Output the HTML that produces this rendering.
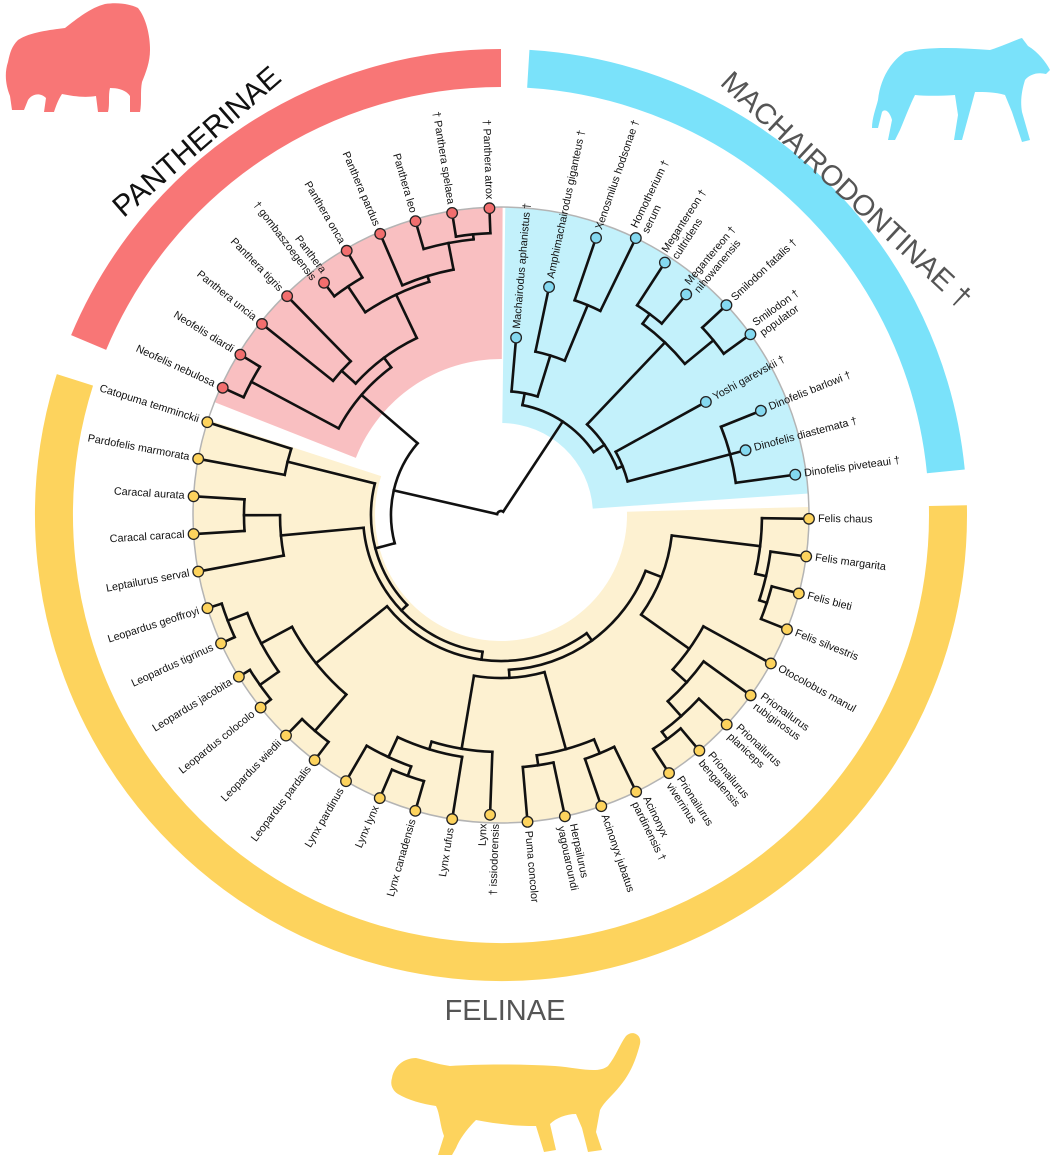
<!DOCTYPE html>
<html><head><meta charset="utf-8"><style>
html,body{margin:0;padding:0;background:#fff;}
svg{display:block;font-family:"Liberation Sans",sans-serif;}
</style></head><body>
<svg id="chart" width="1054" height="1156" viewBox="0 0 1054 1156" xmlns="http://www.w3.org/2000/svg">
<g id="bg"></g><g id="rings"></g><g id="tree"></g><g id="tips"></g><g id="labels"></g>
<g id="titles">
<text x="0" y="0" transform="translate(197,142) rotate(-41)" text-anchor="middle" dominant-baseline="central" font-size="30" fill="#111">PANTHERINAE</text>
<text x="0" y="0" transform="translate(846,190) rotate(43)" text-anchor="middle" dominant-baseline="central" font-size="29" fill="#555">MACHAIRODONTINAE †</text>
<text x="505" y="1020" text-anchor="middle" font-size="29" fill="#555">FELINAE</text>
</g>
<g id="silhouettes">
<path fill="#f87676" d="M18,40 C30,32 50,30 65,28 C78,18 90,8 105,4 C118,2 130,4 138,8 C146,18 150,35 150,50 C150,62 146,72 142,82 C140,92 142,102 140,112 L130,112 L130,96 C126,90 118,88 110,88 C108,96 110,104 108,112 L98,112 L96,96 C84,98 72,96 62,94 C58,100 56,106 54,112 L44,112 L46,98 C40,92 32,94 28,100 L24,110 L12,110 L10,96 C6,86 4,74 8,62 C10,52 12,46 18,40 Z"/>
<path fill="#7ae2fa" d="M878,100 C880,80 890,62 905,52 C930,46 960,48 990,50 C1005,45 1015,40 1022,38 L1028,46 C1038,52 1046,62 1050,70 L1046,74 C1038,72 1030,74 1025,80 C1022,90 1020,100 1022,112 L1030,140 L1022,142 L1012,112 L1005,95 C995,92 985,92 975,92 L968,118 L962,140 L954,140 L958,115 L955,95 C940,96 925,96 915,95 C910,105 905,118 900,130 L895,140 L888,140 L892,120 C890,112 885,108 882,112 L878,128 L872,128 C872,118 876,108 878,100 Z"/>
<path fill="#fdd35d" d="M392,1078 C394,1066 404,1058 416,1058 C426,1060 436,1064 450,1066 C480,1064 520,1064 555,1066 C580,1068 598,1074 608,1066 C616,1056 620,1044 626,1036 C632,1030 642,1034 640,1044 C636,1060 630,1074 620,1086 C612,1096 604,1102 600,1110 L596,1132 L602,1150 L588,1152 L582,1128 L576,1114 C566,1114 556,1118 550,1124 L556,1150 L544,1152 L536,1126 C516,1126 496,1124 476,1120 C468,1128 460,1138 456,1148 L452,1155 L438,1155 L444,1136 C440,1126 440,1114 436,1106 C422,1104 408,1100 398,1094 C392,1090 390,1084 392,1078 Z"/>
</g>
</svg>
<script>
// ---------- DATA ----------
const tipNames = [
 ["Felis chaus"],["Felis margarita"],["Felis bieti"],["Felis silvestris"],["Otocolobus manul"],
 ["Prionailurus","rubiginosus"],["Prionailurus","planiceps"],["Prionailurus","bengalensis"],["Prionailurus","viverrinus"],
 ["Acinonyx","pardinensis  †"],["Acinonyx jubatus"],["Herpailurus","yagouaroundi"],["Puma concolor"],
 ["Lynx","† issiodorensis"],["Lynx rufus"],["Lynx canadensis"],["Lynx lynx"],["Lynx pardinus"],
 ["Leopardus pardalis"],["Leopardus wiedii"],["Leopardus colocolo"],["Leopardus jacobita"],["Leopardus tigrinus"],["Leopardus geoffroyi"],
 ["Leptailurus serval"],["Caracal caracal"],["Caracal aurata"],["Pardofelis marmorata"],["Catopuma temminckii"],
 ["Neofelis nebulosa"],["Neofelis diardi"],["Panthera uncia"],["Panthera tigris"],["Panthera","† gombaszoegensis"],
 ["Panthera onca"],["Panthera pardus"],["Panthera leo"],["† Panthera spelaea"],["† Panthera atrox"],
 ["Machairodus aphanistus †"],["Amphimachairodus giganteus †"],["Xenosmilus hodsonae †"],["Homotherium  †","serum"],
 ["Megantereon  †","cultridens"],["Megantereon  †","nihowanensis"],["Smilodon fatalis †"],["Smilodon  †","populator"],
 ["Yoshi garevskii †"],["Dinofelis barlowi †"],["Dinofelis diastemata †"],["Dinofelis piveteaui †"]
];
const tipGroups = [0,0,0,0,0,0,0,0,0,0,0,0,0,0,0,0,0,0,0,0,0,0,0,0,0,0,0,0,0,1,1,1,1,1,1,1,1,1,1,2,2,2,2,2,2,2,2,2,2,2,2];
const tipRadii = [308,308,308,308,308,308,308,308,308,308,308,308,308,300,308,308,308,308,308,308,308,308,308,308,308,308,308,308,308,
 306,306,306,306,292,306,306,306,306,307,
 178,233,293,308,301,288,308,308,234,280,253,297];
// tree topology: [nodeRadius, children...] ; numbers = tip index
const tree = [4,
 [110,
  [130,[220,28,27],
   [138,[221,[257,26,25],24],
    [146,[237,[272,[293,23,22],[295,21,20]],[285,19,18]],
     [155,[163,[237,[245,[267,17,[277,16,15]],14],13],[243,[253,12,11],[258,10,9]]],
      [172,[261,0,[272,1,[280,2,3]]],[231,4,[250,5,[270,6,[279,7,8]]]]]]]]],
  [184,[283,29,30],[196,[215,31,32],[244,[275,33,34],[250,35,[277,36,[282,37,38]]]]]]],
 [112,[124,39,[167,40,[227,41,42]]],[125,[238,[250,43,44],[275,45,46]],[131,47,[237,48,49,50]]]]
];
const groupFill = ["#fdd35d","#f26e6e","#84d9f0"];
const sectorStart = [-1.5,201.5,270.8];
const sectorEnd = [198,270.3,356];
const sectorInner = [126,156,92];
const sectorColor = ["#fdf1d1","#f9bfc1","#c3f1fb"];
const ringStart = [-1.2,202.7,273.5];
const ringEnd = [197.6,270,354.4];
const ringColor = ["#fdd35d","#f87676","#7ae2fa"];
const ringNames = ["felinae-ring","pantherinae-ring","machairodontinae-ring"];
const sectorNames = ["felinae-shading","pantherinae-shading","machairodontinae-shading"];
// ---------- SCALES ----------
const CX=501, CY=515, RT=308;
const angleOf = i => 0.7 + 7.03*i;
const rad = d => d*Math.PI/180;
const px = (r,a)=>[CX+r*Math.cos(rad(a)), CY+r*Math.sin(rad(a))];
const NS="http://www.w3.org/2000/svg";
function mk(tag,attrs,parent){const e=document.createElementNS(NS,tag);for(const k in attrs)e.setAttribute(k,attrs[k]);parent.appendChild(e);return e;}
function arcPath(r,a1,a2){const p1=px(r,a1),p2=px(r,a2);const large=Math.abs(a2-a1)>180?1:0;const sw=a2>a1?1:0;return `M${p1[0]},${p1[1]} A${r},${r} 0 ${large} ${sw} ${p2[0]},${p2[1]}`;}
function annulus(r1,r2,a1,a2){const o1=px(r2,a1),o2=px(r2,a2),i2=px(r1,a2),i1=px(r1,a1);const l=(a2-a1)>180?1:0;
 return `M${o1} A${r2},${r2} 0 ${l} 1 ${o2} L${i2} A${r1},${r1} 0 ${l} 0 ${i1} Z`;}
// ---------- BACKGROUND ----------
const bg=document.getElementById('bg');
for(let g=0;g<3;g++){
 const e=mk('path',{d:annulus(sectorInner[g],RT,sectorStart[g],sectorEnd[g]),fill:sectorColor[g]},bg);
 
 
}
const base=mk('circle',{cx:CX,cy:CY,r:RT,fill:'none',stroke:'#b4b4b4','stroke-width':1.5},bg);


const ringsG=document.getElementById('rings');
for(let g=0;g<3;g++){
 const e=mk('path',{d:arcPath(447,ringStart[g],ringEnd[g]),fill:'none',stroke:ringColor[g],'stroke-width':38},ringsG);
 
 
}
// ---------- TREE ----------
const treeG=document.getElementById('tree');
function layout(n){
 if(typeof n==='number') return {a:angleOf(n), r:tipRadii[n]};
 const r=n[0]; const kids=n.slice(1).map(layout);
 const as=kids.map(k=>k.a); const amin=Math.min(...as), amax=Math.max(...as);
 const a=(kids[0].a+kids[kids.length-1].a)/2;
 const arc=mk('path',{d:arcPath(r,amin,amax),fill:'none',stroke:'#111','stroke-width':2.6,'stroke-linecap':'square'},treeG);
 
 
 kids.forEach(k=>{const p1=px(r,k.a),p2=px(k.r,k.a);
  const l=mk('line',{x1:p1[0],y1:p1[1],x2:p2[0],y2:p2[1],stroke:'#111','stroke-width':2.6,'stroke-linecap':'square'},treeG);
  
  
 });
 return {a,r};
}
layout(tree);
// ---------- TIPS & LABELS ----------
const tipsG=document.getElementById('tips'), labG=document.getElementById('labels');
tipNames.forEach((nm,i)=>{
 const a=angleOf(i), r=tipRadii[i]; const p=px(r,a);
 const c=mk('circle',{cx:p[0],cy:p[1],r:5.3,fill:groupFill[tipGroups[i]],stroke:'#222','stroke-width':1.3},tipsG);
 
 
 const lp=px(r+9,a);
 let an=((a%360)+360)%360; const right=(an<90||an>270);
 const rot=right?an:an-180;
 const g=mk('g',{transform:`translate(${lp[0]},${lp[1]}) rotate(${rot})`},labG);
 
 
 nm.forEach((line,k)=>{
  const off=(k-(nm.length-1)/2)*12.5;
  const t=mk('text',{x:0,y:off,'text-anchor':right?'start':'end','dominant-baseline':'central','font-size':10.8,fill:'#111'},g);
  t.textContent=line;
 });
});
</script>
</body></html>
